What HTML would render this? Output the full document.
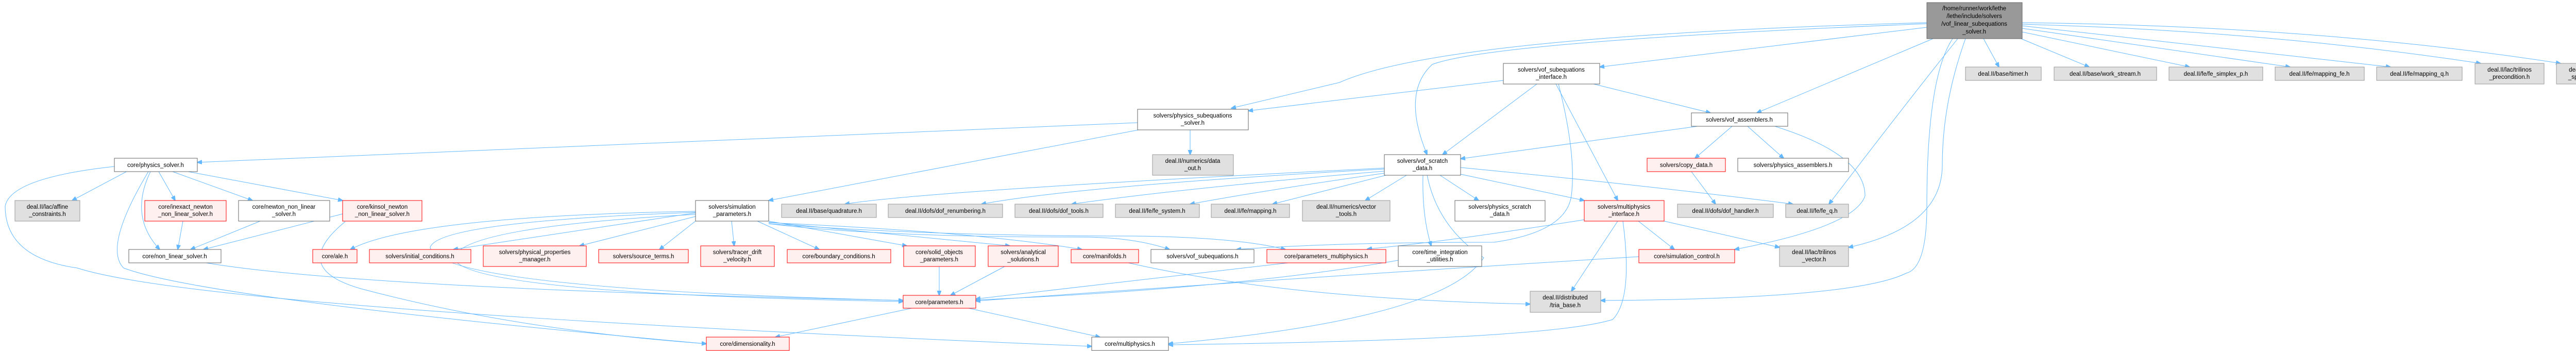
<!DOCTYPE html>
<html><head><meta charset="utf-8"><style>
html,body{margin:0;padding:0;background:#fff}
svg{display:block}
text{font-family:"Liberation Sans",sans-serif;font-size:11.5px;fill:#000;text-anchor:middle}
.w{fill:#fff;stroke:#666;stroke-width:1}
.r{fill:#fff0f0;stroke:#f00;stroke-width:1}
.g{fill:#e0e0e0;stroke:#999;stroke-width:1}
.d{fill:#999;stroke:#666;stroke-width:1}
path.e{fill:none;stroke:#63b8ff;stroke-width:1;marker-end:url(#a)}
</style></head><body>
<svg width="5102" height="681" viewBox="0 0 5102 681" xmlns="http://www.w3.org/2000/svg">
<defs><marker id="a" markerWidth="10" markerHeight="8" refX="9" refY="4" orient="auto" markerUnits="userSpaceOnUse"><path d="M0,0 L10,4 L0,8 z" fill="#63b8ff" stroke="#63b8ff"/></marker></defs>

<!-- edges -->
<g>
<!-- root -->
<path class="e" d="M3850,75 L3880,130"/>
<path class="e" d="M3918,73 L4055,130"/>
<path class="e" d="M3925,62 L4250,130"/>
<path class="e" d="M3925,55 L4445,130"/>
<path class="e" d="M3925,50 L4640,130"/>
<path class="e" d="M3925,47 Q4400,60 4815,123"/>
<path class="e" d="M3925,44 Q4500,50 4970,123"/>
<path class="e" d="M3740,53 L3105,130"/>
<path class="e" d="M3752,75 L3410,219"/>
<path class="e" d="M3740,46 Q2900,80 2780,125 Q2720,180 2770,300"/>
<path class="e" d="M3740,44 Q2800,70 2600,160 L2390,210"/>
<path class="e" d="M3800,75 Q3700,200 3550,396"/>
<path class="e" d="M3815,75 Q3770,200 3770,320 Q3770,440 3588,480"/>
<path class="e" d="M3790,75 Q3740,150 3740,400 Q3740,520 3700,530 Q3600,580 3107,583"/>
<!-- vof_subequations_interface -->
<path class="e" d="M2918,156 L2423,215"/>
<path class="e" d="M2983,163 L2800,300"/>
<path class="e" d="M3093,163 L3320,219"/>
<path class="e" d="M3020,163 L3140,389"/>
<path class="e" d="M3025,163 Q3060,300 3050,380 Q3040,450 2900,470 Q2600,470 2400,484"/>
<!-- physics_subequations_solver -->
<path class="e" d="M2208,238 L383,315"/>
<path class="e" d="M2310,252 L2310,300"/>
<path class="e" d="M2210,252 L1492,389"/>
<!-- vof_assemblers -->
<path class="e" d="M3295,245 L2835,308"/>
<path class="e" d="M3362,245 L3290,307"/>
<path class="e" d="M3392,245 L3462,307"/>
<path class="e" d="M3445,245 Q3620,300 3620,380 Q3600,440 3367,484"/>
<path class="e" d="M3283,333 L3330,396"/>
<!-- vof_scratch_data -->
<path class="e" d="M2687,326 Q1800,370 1640,396"/>
<path class="e" d="M2687,328 Q2100,360 1905,396"/>
<path class="e" d="M2687,332 Q2300,365 2080,396"/>
<path class="e" d="M2687,336 Q2450,370 2310,396"/>
<path class="e" d="M2690,340 L2470,396"/>
<path class="e" d="M2730,340 L2650,389"/>
<path class="e" d="M2795,340 L2870,389"/>
<path class="e" d="M2835,338 L3075,389"/>
<path class="e" d="M2835,325 Q3200,360 3480,396"/>
<path class="e" d="M2762,340 Q2760,420 2778,477"/>
<path class="e" d="M2770,340 Q2790,440 2880,500 Q2800,620 2268,667"/>
<!-- simulation_parameters -->
<path class="e" d="M1350,410 Q800,420 680,484"/>
<path class="e" d="M1350,413 L880,484"/>
<path class="e" d="M1350,420 L1125,477"/>
<path class="e" d="M1355,425 L1280,484"/>
<path class="e" d="M1420,429 L1425,477"/>
<path class="e" d="M1470,429 L1590,484"/>
<path class="e" d="M1492,429 L1760,477"/>
<path class="e" d="M1492,431 L1960,477"/>
<path class="e" d="M1492,432 Q1900,450 2100,484"/>
<path class="e" d="M1492,434 Q1700,460 2100,460 Q2200,460 2270,484"/>
<path class="e" d="M1492,434 Q1800,458 2200,458 Q2400,460 2495,484"/>
<path class="e" d="M1350,412 Q850,430 835,480 Q850,560 1753,583"/>
<path class="e" d="M1350,416 Q900,440 880,500 Q900,570 1753,585"/>
<!-- physics_solver -->
<path class="e" d="M270,320 L140,389"/>
<path class="e" d="M308,333 L340,389"/>
<path class="e" d="M335,333 L490,389"/>
<path class="e" d="M365,333 L665,389"/>
<path class="e" d="M292,333 Q250,420 310,484"/>
<path class="e" d="M222,323 Q20,345 10,400 Q10,500 150,520 Q400,600 2119,672"/>
<path class="e" d="M288,333 Q200,480 240,520 Q400,580 1371,667"/>
<path class="e" d="M355,429 L345,484"/>
<path class="e" d="M505,429 L370,484"/>
<path class="e" d="M665,415 L395,484"/>
<path class="e" d="M670,430 Q560,520 700,560 Q1000,640 1371,667"/>
<path class="e" d="M400,510 Q700,560 1753,583"/>
<!-- lower -->
<path class="e" d="M1770,598 L1505,654"/>
<path class="e" d="M1880,598 L2135,654"/>
<path class="e" d="M1823,517 L1823,573"/>
<path class="e" d="M1950,517 L1845,573"/>
<path class="e" d="M2190,510 Q2500,580 2970,590"/>
<path class="e" d="M2500,510 L1894,580"/>
<path class="e" d="M2714,505 Q2400,560 1894,582"/>
<path class="e" d="M3181,498 Q2500,540 1894,584"/>
<path class="e" d="M3077,426 Q2800,470 2654,483"/>
<path class="e" d="M3140,429 L3050,565"/>
<path class="e" d="M3150,429 Q3170,580 3130,620 Q3000,660 2268,669"/>
<path class="e" d="M3180,429 L3250,484"/>
<path class="e" d="M3230,429 L3454,480"/>
</g>

<!-- nodes -->
<g>
<rect class="d" x="3740" y="5" width="185" height="70"/>
<text x="3832" y="20">/home/runner/work/lethe</text>
<text x="3832" y="35">/lethe/include/solvers</text>
<text x="3832" y="50">/vof_linear_subequations</text>
<text x="3832" y="65">_solver.h</text>

<rect class="g" x="3815" y="130" width="147" height="26"/><text x="3888" y="147">deal.II/base/timer.h</text>
<rect class="g" x="3987" y="130" width="199" height="26"/><text x="4086" y="147">deal.II/base/work_stream.h</text>
<rect class="g" x="4210" y="130" width="182" height="26"/><text x="4301" y="147">deal.II/fe/fe_simplex_p.h</text>
<rect class="g" x="4416" y="130" width="173" height="26"/><text x="4502" y="147">deal.II/fe/mapping_fe.h</text>
<rect class="g" x="4613" y="130" width="166" height="26"/><text x="4696" y="147">deal.II/fe/mapping_q.h</text>
<rect class="g" x="4804" y="123" width="134" height="40"/><text x="4871" y="139">deal.II/lac/trilinos</text><text x="4871" y="153">_precondition.h</text>
<rect class="g" x="4962" y="123" width="135" height="40"/><text x="5029" y="139">deal.II/lac/trilinos</text><text x="5029" y="153">_sparse_matrix.h</text>

<rect class="w" x="2918" y="123" width="187" height="40"/><text x="3011" y="139">solvers/vof_subequations</text><text x="3011" y="153">_interface.h</text>
<rect class="w" x="2208" y="212" width="215" height="40"/><text x="2315" y="228">solvers/physics_subequations</text><text x="2315" y="242">_solver.h</text>
<rect class="w" x="3283" y="219" width="187" height="26"/><text x="3376" y="236">solvers/vof_assemblers.h</text>
<rect class="w" x="222" y="307" width="161" height="26"/><text x="302" y="324">core/physics_solver.h</text>
<rect class="g" x="2237" y="300" width="157" height="40"/><text x="2315" y="316">deal.II/numerics/data</text><text x="2315" y="330">_out.h</text>
<rect class="w" x="2687" y="300" width="148" height="40"/><text x="2761" y="316">solvers/vof_scratch</text><text x="2761" y="330">_data.h</text>
<rect class="r" x="3197" y="307" width="152" height="26"/><text x="3273" y="324">solvers/copy_data.h</text>
<rect class="w" x="3373" y="307" width="215" height="26"/><text x="3480" y="324">solvers/physics_assemblers.h</text>

<rect class="g" x="29" y="389" width="126" height="40"/><text x="92" y="405">deal.II/lac/affine</text><text x="92" y="419">_constraints.h</text>
<rect class="r" x="281" y="389" width="158" height="40"/><text x="360" y="405">core/inexact_newton</text><text x="360" y="419">_non_linear_solver.h</text>
<rect class="w" x="463" y="389" width="177" height="40"/><text x="551" y="405">core/newton_non_linear</text><text x="551" y="419">_solver.h</text>
<rect class="r" x="665" y="389" width="154" height="40"/><text x="742" y="405">core/kinsol_newton</text><text x="742" y="419">_non_linear_solver.h</text>
<rect class="w" x="1350" y="389" width="142" height="40"/><text x="1421" y="405">solvers/simulation</text><text x="1421" y="419">_parameters.h</text>
<rect class="g" x="1517" y="396" width="184" height="26"/><text x="1609" y="413">deal.II/base/quadrature.h</text>
<rect class="g" x="1724" y="396" width="222" height="26"/><text x="1835" y="413">deal.II/dofs/dof_renumbering.h</text>
<rect class="g" x="1970" y="396" width="171" height="26"/><text x="2055" y="413">deal.II/dofs/dof_tools.h</text>
<rect class="g" x="2165" y="396" width="163" height="26"/><text x="2246" y="413">deal.II/fe/fe_system.h</text>
<rect class="g" x="2351" y="396" width="152" height="26"/><text x="2427" y="413">deal.II/fe/mapping.h</text>
<rect class="g" x="2528" y="389" width="170" height="40"/><text x="2613" y="405">deal.II/numerics/vector</text><text x="2613" y="419">_tools.h</text>
<rect class="w" x="2824" y="389" width="175" height="40"/><text x="2911" y="405">solvers/physics_scratch</text><text x="2911" y="419">_data.h</text>
<rect class="r" x="3075" y="389" width="155" height="40"/><text x="3152" y="405">solvers/multiphysics</text><text x="3152" y="419">_interface.h</text>
<rect class="g" x="3256" y="396" width="186" height="26"/><text x="3349" y="413">deal.II/dofs/dof_handler.h</text>
<rect class="g" x="3466" y="396" width="122" height="26"/><text x="3527" y="413">deal.II/fe/fe_q.h</text>

<rect class="w" x="250" y="484" width="179" height="26"/><text x="339" y="501">core/non_linear_solver.h</text>
<rect class="r" x="607" y="484" width="86" height="26"/><text x="650" y="501">core/ale.h</text>
<rect class="r" x="717" y="484" width="197" height="26"/><text x="815" y="501">solvers/initial_conditions.h</text>
<rect class="r" x="938" y="477" width="200" height="40"/><text x="1038" y="493">solvers/physical_properties</text><text x="1038" y="507">_manager.h</text>
<rect class="r" x="1162" y="484" width="174" height="26"/><text x="1249" y="501">solvers/source_terms.h</text>
<rect class="r" x="1360" y="477" width="143" height="40"/><text x="1431" y="493">solvers/tracer_drift</text><text x="1431" y="507">_velocity.h</text>
<rect class="r" x="1528" y="484" width="201" height="26"/><text x="1628" y="501">core/boundary_conditions.h</text>
<rect class="r" x="1754" y="477" width="139" height="40"/><text x="1823" y="493">core/solid_objects</text><text x="1823" y="507">_parameters.h</text>
<rect class="r" x="1918" y="477" width="136" height="40"/><text x="1986" y="493">solvers/analytical</text><text x="1986" y="507">_solutions.h</text>
<rect class="r" x="2079" y="484" width="131" height="26"/><text x="2144" y="501">core/manifolds.h</text>
<rect class="w" x="2234" y="484" width="200" height="26"/><text x="2334" y="501">solvers/vof_subequations.h</text>
<rect class="r" x="2459" y="484" width="231" height="26"/><text x="2574" y="501">core/parameters_multiphysics.h</text>
<rect class="w" x="2714" y="477" width="162" height="40"/><text x="2795" y="493">core/time_integration</text><text x="2795" y="507">_utilities.h</text>
<rect class="r" x="3181" y="484" width="186" height="26"/><text x="3274" y="501">core/simulation_control.h</text>
<rect class="g" x="3454" y="477" width="134" height="40"/><text x="3521" y="493">deal.II/lac/trilinos</text><text x="3521" y="507">_vector.h</text>

<rect class="r" x="1753" y="573" width="141" height="25"/><text x="1823" y="590">core/parameters.h</text>
<rect class="g" x="2970" y="565" width="137" height="41"/><text x="3038" y="581">deal.II/distributed</text><text x="3038" y="596">/tria_base.h</text>
<rect class="r" x="1371" y="654" width="161" height="26"/><text x="1451" y="671">core/dimensionality.h</text>
<rect class="w" x="2119" y="654" width="149" height="26"/><text x="2193" y="671">core/multiphysics.h</text>
</g>
</svg>
</body></html>
